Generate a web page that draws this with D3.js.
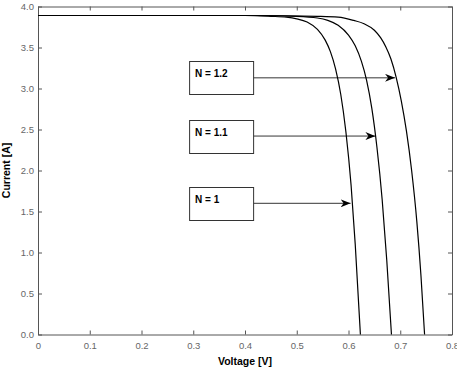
<!DOCTYPE html>
<html>
<head>
<meta charset="utf-8">
<script src="https://cdn.jsdelivr.net/npm/d3@7"></script>
<style>
  body { margin: 0; background: #fff; }
  svg { display: block; font-family: "Liberation Sans", Arial, sans-serif; }
</style>
</head>
<body>
<div id="chart"></div>
<script>
// curves, voltage [V] / current [A]
var voltsN1  = [0, 0.40, 0.45, 0.48, 0.50, 0.52, 0.54, 0.555, 0.565, 0.575, 0.585, 0.595, 0.605, 0.613, 0.623];
var ampsN1   = [3.89, 3.89, 3.88, 3.87, 3.85, 3.81, 3.72, 3.59, 3.45, 3.24, 2.93, 2.47, 1.82, 1.10, 0];
var voltsN11 = [0, 0.42, 0.50, 0.54, 0.56, 0.58, 0.60, 0.613, 0.625, 0.635, 0.645, 0.655, 0.665, 0.674, 0.683];
var ampsN11  = [3.89, 3.89, 3.88, 3.86, 3.83, 3.77, 3.65, 3.52, 3.33, 3.10, 2.76, 2.28, 1.65, 0.90, 0];
var voltsN12 = [0, 0.42, 0.54, 0.58, 0.61, 0.63, 0.65, 0.662, 0.672, 0.682, 0.692, 0.702, 0.712, 0.722, 0.732, 0.740, 0.747];
var ampsN12  = [3.89, 3.89, 3.88, 3.87, 3.83, 3.79, 3.71, 3.62, 3.51, 3.36, 3.14, 2.85, 2.48, 2.00, 1.38, 0.72, 0];

// annotations: label text and the point the arrow hits
var noteLabels = ["N = 1.2", "N = 1.1", "N = 1"];
var noteVolts  = [0.690, 0.652, 0.604];
var noteAmps   = [3.13, 2.42, 1.60];
var noteBoxV   = 0.292;

var xTicks = [0, 0.1, 0.2, 0.3, 0.4, 0.5, 0.6, 0.7, 0.8];
var yTicks = [0, 0.5, 1.0, 1.5, 2.0, 2.5, 3.0, 3.5, 4.0];

var width = 457, height = 370;
var margin = {top: 6.5, right: 5, bottom: 35.5, left: 38};

var svg = d3.select("#chart").append("svg")
    .attr("width", width)
    .attr("height", height);

var defs = svg.append("defs");
defs.append("marker")
    .attr("id", "head")
    .attr("viewBox", "0 0 10 8")
    .attr("refX", 10).attr("refY", 4)
    .attr("markerWidth", 10).attr("markerHeight", 8)
    .attr("markerUnits", "userSpaceOnUse")
    .attr("orient", "auto")
  .append("path")
    .attr("d", "M0,0 L10,4 L0,8 L3,4 Z")
    .attr("fill", "#000");

var x = d3.scaleLinear().domain([0, 0.8]).range([margin.left, width - margin.right]);
var y = d3.scaleLinear().domain([0, 4]).range([height - margin.bottom, margin.top]);

// axes with ticks pointing inward
var tickCol = "#555";
var xAxis = svg.append("g")
    .attr("transform", "translate(0," + y(0) + ")")
    .call(d3.axisBottom(x).tickValues(xTicks).tickSizeInner(-4).tickSizeOuter(0).tickPadding(8)
        .tickFormat(function(d) { return d === 0 ? "0" : d3.format(".1f")(d); }));
var yAxis = svg.append("g")
    .attr("transform", "translate(" + x(0) + ",0)")
    .call(d3.axisLeft(y).tickValues(yTicks).tickSizeInner(-4).tickSizeOuter(0).tickPadding(4)
        .tickFormat(d3.format(".1f")));
var xTop = svg.append("g")
    .attr("transform", "translate(0," + y(4) + ")")
    .call(d3.axisTop(x).tickValues(xTicks).tickSizeInner(-4).tickSizeOuter(0).tickFormat(""));
var yRight = svg.append("g")
    .attr("transform", "translate(" + x(0.8) + ",0)")
    .call(d3.axisRight(y).tickValues(yTicks).tickSizeInner(-4).tickSizeOuter(0).tickFormat(""));

[xAxis, yAxis, xTop, yRight].forEach(function(g) {
    g.select(".domain").attr("stroke", tickCol);
    g.selectAll(".tick line").attr("stroke", tickCol);
    g.selectAll(".tick text").attr("fill", "#666").style("font-size", "9.5px");
});

svg.append("text")
    .attr("x", (x(0) + x(0.8)) / 2)
    .attr("y", 365)
    .attr("text-anchor", "middle")
    .style("font-size", "10.5px")
    .style("font-weight", "bold")
    .text("Voltage [V]");

svg.append("text")
    .attr("transform", "translate(10," + ((y(0) + y(4)) / 2) + ") rotate(-90)")
    .attr("text-anchor", "middle")
    .style("font-size", "10.5px")
    .style("font-weight", "bold")
    .text("Current [A]");

// the three I-V curves
var series = [
    d3.zip(voltsN1, ampsN1),
    d3.zip(voltsN11, ampsN11),
    d3.zip(voltsN12, ampsN12)
];
var line = d3.line()
    .x(function(d) { return x(d[0]); })
    .y(function(d) { return y(d[1]); })
    .curve(d3.curveMonotoneX);

svg.selectAll("path.curve")
    .data(series)
    .enter()
    .append("path")
    .attr("class", "curve")
    .attr("d", line)
    .attr("fill", "none")
    .attr("stroke", "#000")
    .attr("stroke-width", 1.2);

// annotation boxes + arrows
var boxW = 64, boxH = 33;
var notes = svg.selectAll("g.note")
    .data(noteLabels)
    .enter()
    .append("g")
    .attr("class", "note");

notes.append("line")
    .attr("x1", x(noteBoxV) + boxW)
    .attr("y1", function(d, i) { return y(noteAmps[i]); })
    .attr("x2", function(d, i) { return x(noteVolts[i]); })
    .attr("y2", function(d, i) { return y(noteAmps[i]); })
    .attr("stroke", "#000")
    .attr("stroke-width", 0.8)
    .attr("marker-end", "url(#head)");

notes.append("rect")
    .attr("x", x(noteBoxV) + 0.5)
    .attr("y", function(d, i) { return Math.round(y(noteAmps[i]) - boxH / 2) + 0.5; })
    .attr("width", boxW)
    .attr("height", boxH)
    .attr("fill", "#fff")
    .attr("stroke", "#333")
    .attr("stroke-width", 1);

notes.append("text")
    .attr("x", x(noteBoxV) + 6)
    .attr("y", function(d, i) { return Math.round(y(noteAmps[i]) - boxH / 2) + 16; })
    .style("font-size", "10px")
    .style("font-weight", "bold")
    .text(function(d) { return d; });
</script>
</body>
</html>
